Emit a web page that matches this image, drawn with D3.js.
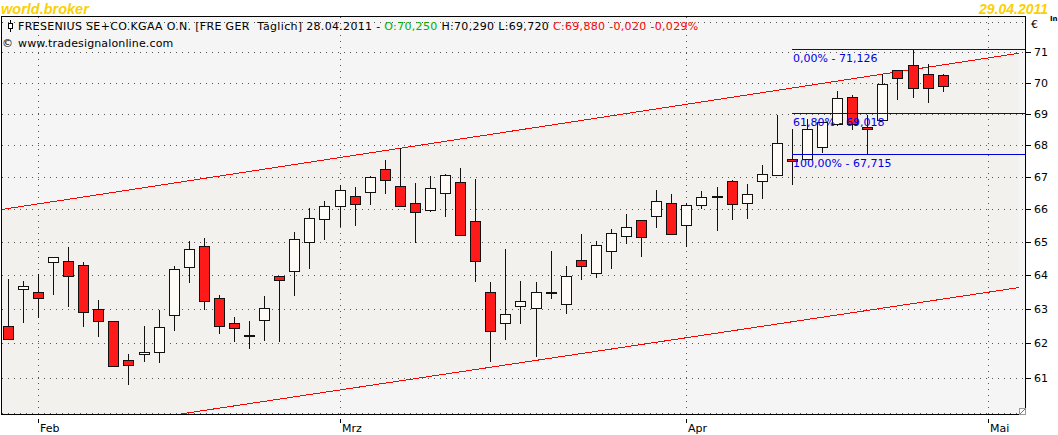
<!DOCTYPE html>
<html><head><meta charset="utf-8">
<script src="https://cdn.jsdelivr.net/npm/d3@7/dist/d3.min.js"></script>
<style>
html,body{margin:0;padding:0;background:#fff;}
svg{display:block;font-family:"DejaVu Sans",Verdana,sans-serif;}
</style>
</head><body>
<svg id="c" width="1058" height="435"></svg>
<script>
// ---- data ----
const dates = ["28.01.2011","31.01.2011",
 "01.02.2011","02.02.2011","03.02.2011","04.02.2011","07.02.2011","08.02.2011","09.02.2011","10.02.2011","11.02.2011",
 "14.02.2011","15.02.2011","16.02.2011","17.02.2011","18.02.2011","21.02.2011","22.02.2011","23.02.2011","24.02.2011","25.02.2011","28.02.2011",
 "01.03.2011","02.03.2011","03.03.2011","04.03.2011","07.03.2011","08.03.2011","09.03.2011","10.03.2011","11.03.2011",
 "14.03.2011","15.03.2011","16.03.2011","17.03.2011","18.03.2011","21.03.2011","22.03.2011","23.03.2011","24.03.2011","25.03.2011",
 "28.03.2011","29.03.2011","30.03.2011","31.03.2011",
 "01.04.2011","04.04.2011","05.04.2011","06.04.2011","07.04.2011","08.04.2011","11.04.2011","12.04.2011","13.04.2011","14.04.2011","15.04.2011",
 "18.04.2011","19.04.2011","20.04.2011","21.04.2011","26.04.2011","27.04.2011","28.04.2011"];
const futureDates = ["29.04.2011","30.04.2011","02.05.2011","03.05.2011","04.05.2011"];

const opens  = [62.48,63.59,63.48,64.39,64.42,64.30,62.98,62.65,61.51,61.68,61.74,62.80,64.24,64.87,63.30,62.59,62.22,62.68,63.98,64.12,64.99,65.68,
 66.10,66.40,66.53,67.25,66.71,66.18,65.97,66.50,66.84,65.63,63.50,62.58,63.09,63.03,63.50,63.15,64.44,64.06,64.72,65.18,65.66,65.79,66.18,
 65.51,66.13,66.40,66.86,66.18,66.86,67.06,67.56,67.56,67.92,68.65,69.54,68.56,68.81,70.43,70.57,70.27,70.25];
const highs  = [63.88,63.83,64.03,64.54,64.85,64.38,63.24,62.65,61.68,62.48,62.96,64.25,65.03,65.12,63.40,62.74,62.63,63.37,63.98,65.30,66.03,66.23,
 66.73,66.69,67.03,67.51,67.89,66.81,67.03,67.08,67.28,66.93,63.79,64.78,63.83,63.80,64.73,64.25,65.24,65.03,65.39,65.83,65.66,66.57,66.47,
 66.18,66.56,66.67,66.90,66.77,67.38,68.95,68.50,68.84,68.72,69.74,69.60,68.94,70.28,70.43,71.126,70.63,70.29];
const lows   = [62.10,62.61,62.74,63.44,63.09,62.50,62.20,61.34,60.81,61.47,61.44,62.38,63.79,63.00,62.29,62.05,61.85,62.08,62.05,63.41,64.20,65.07,
 65.48,65.52,66.15,66.48,66.09,64.98,65.95,65.78,65.20,63.81,61.49,62.10,62.57,61.61,63.31,62.87,63.87,63.93,64.20,64.96,64.56,65.44,65.23,
 64.86,66.02,65.35,65.69,65.71,66.33,67.05,66.78,67.55,67.76,68.64,68.49,67.715,68.80,69.47,69.54,69.38,69.72];
const closes = [62.12,63.68,63.30,64.54,63.97,62.89,62.65,61.34,61.37,61.74,62.45,64.17,64.78,63.21,62.48,62.42,62.22,63.01,63.84,65.08,65.72,66.09,
 66.59,66.15,66.99,66.90,66.09,65.91,66.65,67.05,65.20,64.42,62.35,62.85,63.21,63.50,63.50,63.97,64.25,64.90,65.27,65.45,65.14,66.25,65.23,
 66.12,66.38,66.40,66.16,66.47,67.09,68.05,67.48,68.49,68.72,69.50,68.68,68.49,69.96,70.17,69.84,69.84,69.88];

const monthTicks = [["01.02.2011","Feb"],["01.03.2011","Mrz"],["01.04.2011","Apr"],["02.05.2011","Mai"]];
const yTickValues = [61,62,63,64,65,66,67,68,69,70,71];
const gridValues = [60,61,62,63,64,65,66,67,68,69,70,71,72];

// trend channel anchors: [slot position, price]
const upperTrend = [[-0.45, 65.98],[67.0, 70.97]];
const lowerTrend = [[11.45, 59.98],[67.0, 63.62]];

// Fibonacci retracement
const fibHigh = 71.126, fibLow = 67.715;
const fibPercents = [0, 61.8, 100];
const fibStartDate = "12.04.2011";

const headerParts = [
  ["FRESENIUS SE+CO.KGAA O.N. [FRE GER  Täglich] 28.04.2011 - ", "#000"],
  ["O:70,250", "#00b000"],
  [" H:70,290 L:69,720 ", "#000"],
  ["C:69,880 -0,020 -0,029%", "#ff0000"]
];

// ---- layout ----
const svg = d3.select("#c");
const P = {l:1.5, t:16.5, r:1026.5, b:415.5};
const slots = dates.concat(futureDates);
const slotIndex = d => slots.indexOf(d);

const x = d3.scaleLinear().domain([-0.45, 67.49]).range([1.5, 1026]);
const y = d3.scaleLog().domain([59.95, 72.18]).range([415, 17]);

// title texts
svg.append("text").attr("x",1).attr("y",14).attr("font-family","'Liberation Sans',Arial,sans-serif")
  .attr("font-weight","bold").attr("font-style","italic").attr("font-size","14.5px").attr("fill","#fcd000").text("world.broker");
svg.append("text").attr("x",1048).attr("y",14).attr("text-anchor","end").attr("font-family","'Liberation Sans',Arial,sans-serif")
  .attr("font-weight","bold").attr("font-style","italic").attr("font-size","14px").attr("fill","#fcd000").text("29.04.2011");
svg.append("text").attr("x",1050).attr("y",21).attr("font-size","7px").attr("font-weight","bold").attr("fill","#000").text("In");

// plot background
svg.append("rect").attr("x",P.l).attr("y",P.t).attr("width",P.r-P.l).attr("height",P.b-P.t).attr("fill","#f5f5f5");
svg.append("clipPath").attr("id","pc").append("rect").attr("x",2).attr("y",17).attr("width",1024).attr("height",398);
const plot = svg.append("g").attr("clip-path","url(#pc)");

function trendPx(anchors, pos){
  const [a,b] = anchors;
  const x0=x(a[0]), y0=y(a[1]), x1=x(b[0]), y1=y(b[1]);
  const xp = x(pos);
  return [xp, y0 + (y1-y0)*(xp-x0)/(x1-x0)];
}
// channel fill
const cStart = -0.45, cEnd = 67.0;
const poly = [trendPx(upperTrend,cStart), trendPx(upperTrend,cEnd), trendPx(lowerTrend,cEnd), trendPx(lowerTrend,cStart)];
plot.append("polygon").attr("points", poly.map(p=>p.join(",")).join(" ")).attr("fill","#f2f1ed");

// grid
plot.selectAll("line.hg").data(gridValues).enter().append("line").attr("class","hg")
  .attr("x1",2).attr("x2",1026).attr("y1",d=>Math.round(y(d))+0.5).attr("y2",d=>Math.round(y(d))+0.5)
  .attr("stroke","#555").attr("stroke-dasharray","1,5").attr("shape-rendering","crispEdges");
plot.selectAll("line.vg").data(monthTicks).enter().append("line").attr("class","vg")
  .attr("x1",d=>Math.floor(x(slotIndex(d[0])))+0.5).attr("x2",d=>Math.floor(x(slotIndex(d[0])))+0.5)
  .attr("y1",17).attr("y2",415)
  .attr("stroke","#555").attr("stroke-dasharray","1,5").attr("shape-rendering","crispEdges");

// header row backgrounds and texts
const hdr = svg.append("text").attr("x",18).attr("y",30).attr("font-size","11px")
  .attr("letter-spacing","0.32px").style("white-space","pre");
headerParts.forEach(p => hdr.append("tspan").attr("fill",p[1]).text(p[0]));
const hw = hdr.node().getComputedTextLength();
svg.insert("rect", "text").attr("x",2).attr("y",17).attr("width",16+hw+1).attr("height",16).attr("fill","#fff");
hdr.raise();
// candle icon
svg.append("line").attr("x1",10.5).attr("x2",10.5).attr("y1",20).attr("y2",32).attr("stroke","#000").attr("shape-rendering","crispEdges");
svg.append("rect").attr("x",8.5).attr("y",23.5).attr("width",4).attr("height",5).attr("fill","#fff").attr("stroke","#000").attr("shape-rendering","crispEdges");
svg.append("text").attr("x",2).attr("y",47).attr("font-size","11px").text("©");
svg.append("text").attr("x",18).attr("y",47).attr("font-size","11px").attr("letter-spacing","0.14px").text("www.tradesignalonline.com");

// trend lines
[upperTrend, lowerTrend].forEach(t => {
  const a = trendPx(t, t[0][0]), b = trendPx(t, t[1][0]);
  plot.append("line").attr("x1",a[0]).attr("y1",a[1]).attr("x2",b[0]).attr("y2",b[1])
    .attr("stroke","#ff0000").attr("stroke-width",1).attr("shape-rendering","crispEdges");
});

// candles
const bars = dates.map((d,i)=>({i, o:opens[i], h:highs[i], l:lows[i], c:closes[i]}));
const cg = plot.append("g").attr("shape-rendering","crispEdges");
bars.forEach(b => {
  const cx = Math.floor(x(b.i));
  cg.append("line").attr("x1",cx+0.5).attr("x2",cx+0.5)
    .attr("y1",Math.round(y(b.h))).attr("y2",Math.round(y(b.l))+1).attr("stroke","#111");
  const top = Math.round(y(Math.max(b.o,b.c))), bot = Math.round(y(Math.min(b.o,b.c)));
  cg.append("rect").attr("x",cx-5+0.5).attr("y",top+0.5).attr("width",10).attr("height",Math.max(1,bot-top))
    .attr("fill", b.c < b.o ? "#ff1a1a" : "#fffcf8").attr("stroke","#111");
});

// fibonacci
const fibX0 = Math.floor(x(slotIndex(fibStartDate)));
const fmt = (v,n) => v.toFixed(n).replace(".",",");
fibPercents.forEach(p => {
  const v = fibHigh - p/100*(fibHigh-fibLow);
  const yy = Math.round(y(v))+0.5;
  plot.append("line").attr("x1",fibX0).attr("x2",1026).attr("y1",yy).attr("y2",yy)
    .attr("stroke","#0000dd").attr("shape-rendering","crispEdges");
  plot.append("text").attr("x",fibX0+1).attr("y",yy+12).attr("font-size","11px").attr("fill","#0000e6")
    .text(`${fmt(p,2)}% - ${fmt(v,3)}`);
});

// border
svg.append("rect").attr("x",P.l).attr("y",P.t).attr("width",P.r-P.l-1).attr("height",P.b-P.t-1)
  .attr("fill","none").attr("stroke","#000").attr("shape-rendering","crispEdges");
// resize glyph
svg.append("rect").attr("x",1019.5).attr("y",408.5).attr("width",6).attr("height",6).attr("fill","#fff").attr("stroke","#999").attr("shape-rendering","crispEdges");
svg.append("line").attr("x1",1020).attr("y1",414).attr("x2",1025).attr("y2",409).attr("stroke","#777");

// right axis
const ya = svg.append("g").attr("transform","translate(1026,0)")
  .call(d3.axisRight(y).tickValues(yTickValues).tickFormat(d3.format("d")).tickSize(5).tickPadding(3));
ya.select(".domain").remove();
ya.selectAll("line").attr("stroke","#000").attr("shape-rendering","crispEdges");
ya.selectAll("text").attr("font-size","11px").attr("font-family","'DejaVu Sans',Verdana,sans-serif").attr("fill","#000");
svg.append("text").attr("x",1031).attr("y",28).attr("font-size","11px").text("€");

// bottom axis
const xa = svg.append("g").attr("transform","translate(0,419)")
  .call(d3.axisBottom(x).tickValues(monthTicks.map(m=>slotIndex(m[0]))).tickSize(4).tickPadding(2)
    .tickFormat((d,k)=>monthTicks[k][1]));
xa.select(".domain").remove();
xa.selectAll(".tick").attr("transform", d => `translate(${Math.floor(x(d))+0.5},0)`);
xa.selectAll("line").attr("stroke","#000").attr("shape-rendering","crispEdges");
xa.selectAll("text").attr("text-anchor","start").attr("x",1.5).attr("y",13).attr("dy",0)
  .attr("font-size","11px").attr("font-family","'DejaVu Sans',Verdana,sans-serif").attr("fill","#000");
</script>
</body></html>
